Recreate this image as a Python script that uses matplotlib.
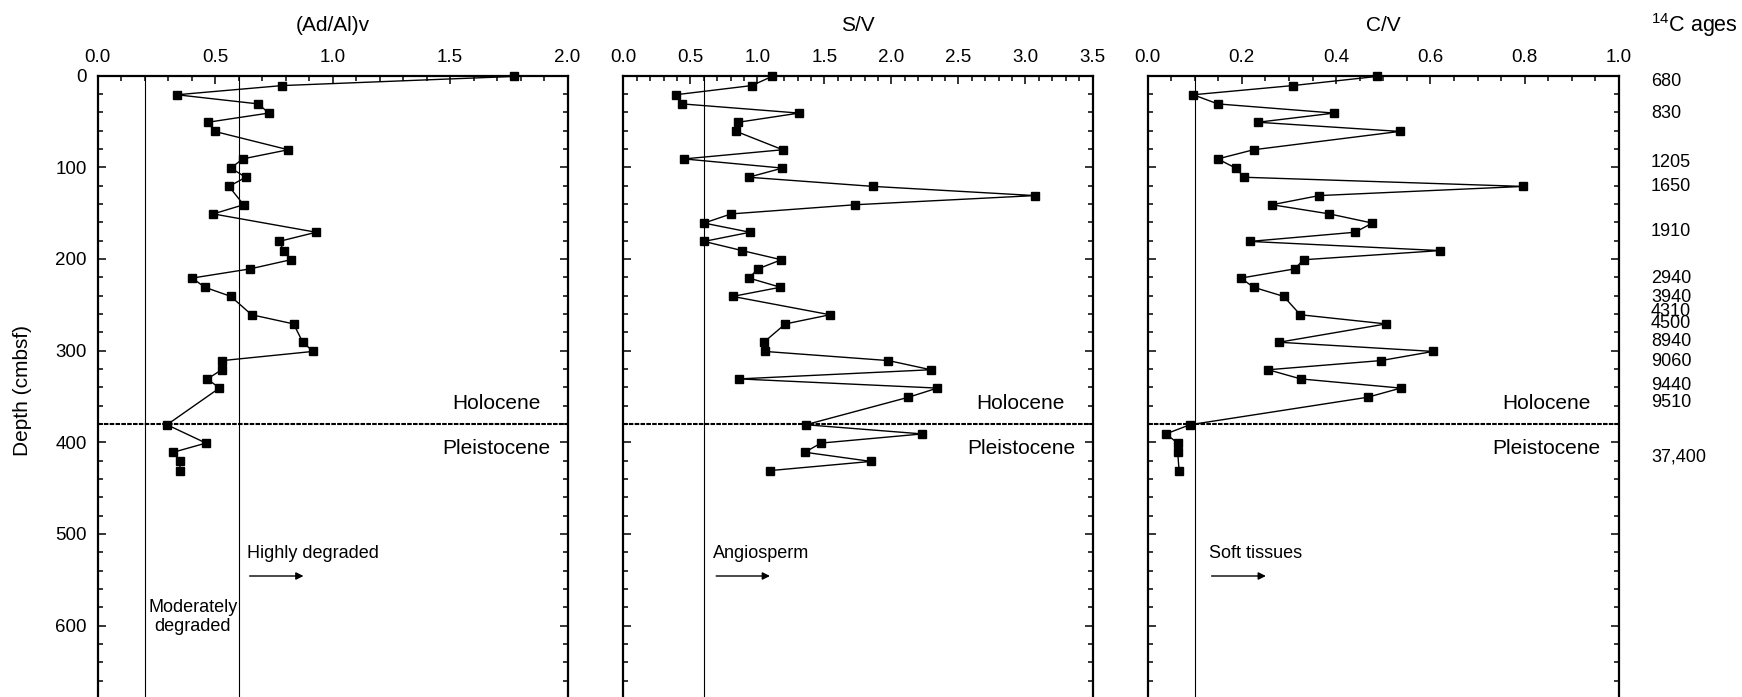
import matplotlib
matplotlib.use("Agg")
import matplotlib.pyplot as plt
from matplotlib.ticker import MultipleLocator, FormatStrFormatter

plt.rcParams['font.family'] = ['Liberation Sans', 'DejaVu Sans']
plt.rcParams['mathtext.fontset'] = 'custom'
plt.rcParams['mathtext.rm'] = 'Liberation Sans'

# (Ad/Al)v
depth_ad = [1, 11, 21, 31, 41, 51, 61, 81, 91, 101, 111, 121, 141, 151, 171, 181, 191, 201,
            211, 221, 231, 241, 261, 271, 291, 301, 311, 321, 331, 341, 381, 401, 411, 421, 431]
adal = [1.772, 0.785, 0.337, 0.684, 0.728, 0.469, 0.498, 0.811, 0.617, 0.567, 0.630, 0.559,
        0.621, 0.492, 0.930, 0.772, 0.792, 0.822, 0.648, 0.402, 0.456, 0.567, 0.655, 0.834,
        0.873, 0.917, 0.531, 0.528, 0.467, 0.518, 0.295, 0.461, 0.322, 0.350, 0.350]

# S/V
depth_sv = [1, 11, 21, 31, 41, 51, 61, 81, 91, 101, 111, 121, 131, 141, 151, 161, 171, 181, 191,
            201, 211, 221, 231, 241, 261, 271, 291, 301, 311, 321, 331, 341, 351, 381, 391, 401,
            411, 421, 431]
sv = [1.110, 0.958, 0.391, 0.440, 1.311, 0.858, 0.843, 1.189, 0.453, 1.187, 0.935, 1.866,
      3.070, 1.729, 0.804, 0.602, 0.945, 0.602, 0.886, 1.179, 1.003, 0.938, 1.172, 0.816,
      1.542, 1.209, 1.048, 1.055, 1.978, 2.294, 0.863, 2.343, 2.127, 1.361, 2.231, 1.475,
      1.354, 1.848, 1.095]

# C/V
depth_cv = [1, 11, 21, 31, 41, 51, 61, 81, 91, 101, 111, 121, 131, 141, 151, 161, 171, 181, 191,
            201, 211, 221, 231, 241, 261, 271, 291, 301, 311, 321, 331, 341, 351, 381, 391, 401,
            411, 431]
cv = [0.487, 0.308, 0.097, 0.149, 0.396, 0.234, 0.535, 0.225, 0.149, 0.187, 0.205, 0.797,
      0.364, 0.264, 0.386, 0.477, 0.440, 0.217, 0.620, 0.331, 0.312, 0.198, 0.225, 0.289,
      0.324, 0.506, 0.279, 0.606, 0.495, 0.256, 0.325, 0.537, 0.467, 0.090, 0.039, 0.064,
      0.064, 0.067]

# 14C ages and the depth they are written at
ages = ['680', '830', '1205', '1650', '1910', '2940', '3940', '4310', '4500', '8940',
        '9060', '9440', '9510', '37,400']
age_depth = [6.8, 41, 94.7, 121, 170.4, 221.7, 242.4, 257.7, 270.3, 290, 312, 338.4,
             357, 416.5]

boundary = 380

W, H = 1742, 697
fig = plt.figure(figsize=(W / 100, H / 100), dpi=100)

top = 75.5
panels = [
    # left px, right px, xmax, major, minor, ref lines, data
    (97.7, 567.5, 2.0, 0.5, 0.1, [0.2, 0.6], depth_ad, adal, '(Ad/Al)v'),
    (623.3, 1092.5, 3.5, 0.5, 0.1, [0.6], depth_sv, sv, 'S/V'),
    (1147.5, 1619.0, 1.0, 0.2, 0.05, [0.1], depth_cv, cv, 'C/V'),
]

axes = []
for i, (l, r, xmax, maj, mnr, refs, d, v, title) in enumerate(panels):
    ax = fig.add_axes([l / W, 0, (r - l) / W, (H - top) / H])
    ax.set_xlim(0, xmax)
    ax.set_ylim(678, 0)
    ax.xaxis.tick_top()
    ax.xaxis.set_major_locator(MultipleLocator(maj))
    ax.xaxis.set_minor_locator(MultipleLocator(mnr))
    ax.xaxis.set_major_formatter(FormatStrFormatter('%.1f'))
    ax.yaxis.set_major_locator(MultipleLocator(100))
    ax.yaxis.set_minor_locator(MultipleLocator(20))
    ax.tick_params(which='both', direction='in', top=True, bottom=False,
                   left=True, right=True, width=1.1, labelsize=13.5)
    ax.tick_params(which='major', length=5.5)
    ax.tick_params(which='minor', length=3.5)
    ax.tick_params(axis='x', pad=7)
    ax.tick_params(axis='y', pad=8)
    if i > 0:
        ax.tick_params(axis='y', labelleft=False)
    for s in ['top', 'left', 'right']:
        ax.spines[s].set_linewidth(1.6)
    ax.spines['bottom'].set_visible(False)

    for xr in refs:
        ax.axvline(xr, color='black', lw=0.8)
    ax.axhline(boundary, color='black', lw=1.5, ls=(0, (2.2, 0.6)))
    ax.plot(v, d, color='black', lw=1.0, marker='s', ms=6.2, clip_on=False, zorder=5)
    ax.text(0.5, 1.081, title, transform=ax.transAxes, ha='center', va='center', fontsize=15)
    axes.append(ax)

ax1, ax2, ax3 = axes

hol_x = [1.697, 2.966, 0.846]
for ax, hx in zip(axes, hol_x):
    ax.text(hx, 357.6, 'Holocene', ha='center', va='center', fontsize=15)
    ax.text(hx, 407.4, 'Pleistocene', ha='center', va='center', fontsize=15)

arrow = dict(arrowstyle='-|>', color='black', lw=1.0, mutation_scale=11)
ax1.text(0.635, 521, 'Highly degraded', ha='left', va='center', fontsize=13)
ax1.annotate('', xy=(0.888, 546), xytext=(0.635, 546), arrowprops=arrow)
ax1.text(0.405, 591, 'Moderately\ndegraded', ha='center', va='center', fontsize=13,
         linespacing=1.15)

ax2.text(0.672, 521, 'Angiosperm', ha='left', va='center', fontsize=13)
ax2.annotate('', xy=(1.115, 546), xytext=(0.672, 546), arrowprops=arrow)

ax3.text(0.130, 521, 'Soft tissues', ha='left', va='center', fontsize=13)
ax3.annotate('', xy=(0.257, 546), xytext=(0.130, 546), arrowprops=arrow)

# 14C ages column
age_x = (1651 - 1147.5) / (1619.0 - 1147.5)
for a, dd in zip(ages, age_depth):
    ax3.text(age_x, dd, a, transform=ax3.get_yaxis_transform(), ha='left', va='center',
             fontsize=13)
ax3.text(age_x, 1.081, r'$\mathregular{^{14}}$C ages', transform=ax3.transAxes,
         ha='left', va='center', fontsize=15.5)

fig.text(23 / W, 1 - 390 / H, 'Depth (cmbsf)', rotation=90, ha='center', va='center',
         fontsize=15)

fig.savefig('out.png', dpi=100)
